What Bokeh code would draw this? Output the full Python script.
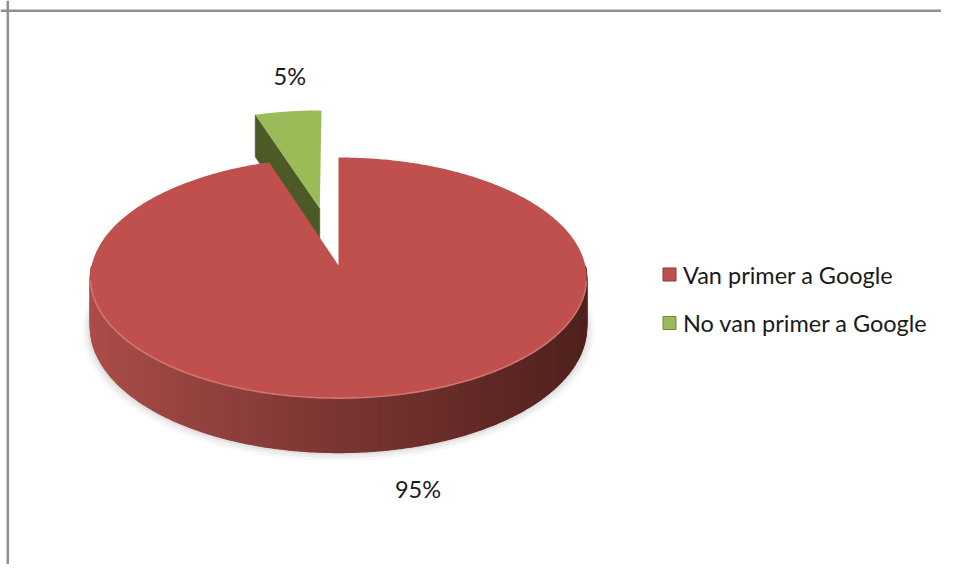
import numpy as np
from bokeh.plotting import figure
from bokeh.models import Range1d, Span, Label, ColumnDataSource
from bokeh.embed import file_html
from bokeh.resources import INLINE
from bokeh.core.properties import value

# ---------------- data ----------------
categories = ["Van primer a Google", "No van primer a Google"]
shares = [95, 5]
pct_labels = ["95%", "5%"]
explode = [0.0, 0.51]

# ---------------- styles ----------------
top_colors = ["#C0504D", "#9BBB59"]
edge_colors = ["#8C3836", "#71893F"]
side_left = [(172, 78, 74), (120, 140, 60)]
side_right = [(80, 33, 30), (58, 70, 28)]
radial_colors = ["#7A302D", "#4B5A26"]
label_nudge = [(20, 14), (11, 7)]   # screen px (right, up)
FONT = "Lato"
FONT_SIZE = "23.5px"
TEXT_COLOR = "#1a1a1a"

W, H = 941, 564
PX = 249.0                 # px per unit radius
CX, CY = 338.0, 265.0      # pie centre inside frame (px from left / top)
A, B, D, K = 0.991, 0.479, 0.194, 0.104   # width, tilt, depth, perspective


def proj(u, v, z):
    s = 1.0 / (1.0 + K * v)
    return A * u * s, (B * v - D * z) * s


def fx(px):
    return (px - CX) / PX


def fy(py):
    return (CY - py) / PX


p = figure(width=W, height=H, output_backend="svg", toolbar_location=None,
           x_range=Range1d(fx(0), fx(W)), y_range=Range1d(fy(H), fy(0)),
           x_axis_location=None, y_axis_location=None, min_border=0,
           background_fill_color="white", border_fill_color="white")
p.grid.visible = False
p.outline_line_color = None

# soft shadow band under the front of the pie
th_out = np.linspace(np.pi - 0.15, 2 * np.pi + 0.15, 160)
th_in = th_out[::-1]
for k, al in [(0.03, 0.06), (0.02, 0.08), (0.01, 0.12)]:
    ox_, oy_ = proj((1 + k) * np.cos(th_out), (1 + k) * np.sin(th_out) - k * 0.6, 1.0)
    ix_, iy_ = proj(np.cos(th_in), np.sin(th_in), 0.9)
    p.patch(list(ox_) + list(ix_), list(oy_ - k * 0.12) + list(iy_),
            fill_color="#808080", fill_alpha=al, line_color=None)

total = float(sum(shares))
n = len(shares)
slices = []
cum = 0.0
for i, sh in enumerate(shares):
    a0 = np.pi / 2 - 2 * np.pi * cum / total
    a1 = np.pi / 2 - 2 * np.pi * (cum + sh) / total
    cum += sh
    mid = 0.5 * (a0 + a1)
    slices.append(dict(i=i, a0=a0, a1=a1, mid=mid,
                       ou=explode[i] * np.cos(mid), ov=explode[i] * np.sin(mid)))

order = sorted(slices, key=lambda s: -np.sin(s["mid"]))  # back first

for s in order:
    i = s["i"]
    ou, ov = s["ou"], s["ov"]
    npts = max(12, int(np.degrees(s["a0"] - s["a1"]) * 1.5))
    t = np.linspace(s["a1"], s["a0"], npts)
    uu, vv = ou + np.cos(t), ov + np.sin(t)
    tx, ty = proj(uu, vv, 0.0)
    bx, by = proj(uu, vv, 1.0)

    # outer curved side (front facing part) with horizontal gradient
    xs, ys, cols = [], [], []
    for j in range(npts - 1):
        if np.sin(0.5 * (t[j] + t[j + 1])) < 0:
            xs.append([tx[j], tx[j + 1], bx[j + 1], bx[j]])
            ys.append([ty[j], ty[j + 1], by[j + 1], by[j]])
            f = np.clip((0.5 * (tx[j] + tx[j + 1]) + 1.0) / 2.0, 0, 1) ** 0.9
            c = tuple(int(round(side_left[i][q] + (side_right[i][q] - side_left[i][q]) * f)) for q in range(3))
            cols.append("#%02x%02x%02x" % c)
    if xs:
        p.patches(xs, ys, fill_color=cols, line_color=cols, line_width=1.3)

    # radial faces
    for ang, sg in [(s["a0"], 1), (s["a1"], -1)]:
        if np.sin(ang + sg * np.pi / 2) < -1e-6:
            u1, v1 = ou + np.cos(ang), ov + np.sin(ang)
            px_, py_ = [], []
            for (uu_, vv_, zz) in [(ou, ov, 0.0), (u1, v1, 0.0), (u1, v1, 1.0), (ou, ov, 1.0)]:
                a_, b_ = proj(uu_, vv_, zz)
                px_.append(a_)
                py_.append(b_)
            p.patch(px_, py_, fill_color=radial_colors[i], line_color=radial_colors[i], line_width=0.5)

    # top face
    cx0, cy0 = proj(ou, ov, 0.0)
    p.patch([cx0] + list(tx), [cy0] + list(ty), fill_color=top_colors[i], line_color=None)

    # light rim along the front edge
    m = np.sin(t) < -0.12
    if m.any():
        p.line(list(tx[m]), list(ty[m] + 0.002), line_color="#D9807B", line_width=1.6, line_alpha=0.8)

# percentage labels
LABEL_GAP = 0.33
for s in slices:
    i = s["i"]
    r = explode[i] + 1.0 + LABEL_GAP
    z = 1.0 if np.sin(s["mid"]) < 0 else 0.0
    lx, ly = proj(r * np.cos(s["mid"]), r * np.sin(s["mid"]), z)
    p.add_layout(Label(x=lx, y=ly, text=pct_labels[i], x_offset=label_nudge[i][0],
                       y_offset=label_nudge[i][1], text_align="center", text_baseline="middle",
                       text_font=FONT, text_font_size=FONT_SIZE, text_color=TEXT_COLOR))

# legend (drawn manually)
LEG_X, LEG_Y, LEG_PITCH, LEG_STANDOFF = 669, 274, 48.5, 13.5
leg_src = ColumnDataSource(dict(
    x=[fx(LEG_X)] * n,
    y=[fy(LEG_Y + k * LEG_PITCH) for k in range(n)],
    tx=[fx(LEG_X + LEG_STANDOFF)] * n,
    ty=[fy(LEG_Y + k * LEG_PITCH) for k in range(n)],
    label=categories, fill=top_colors, line=edge_colors))
p.scatter("x", "y", source=leg_src, marker="square", size=13, fill_color="fill", line_color="line",
          line_width=1)
p.text("tx", "ty", text="label", source=leg_src, text_font=value(FONT), text_font_size=FONT_SIZE,
       text_color=TEXT_COLOR, text_baseline="middle", text_align="left")

# chart-area border (top and left visible)
p.add_layout(Span(location=fy(10.3), dimension="width", line_color="#8F8F8F", line_width=2.5))
p.add_layout(Span(location=fx(7.3), dimension="height", line_color="#8F8F8F", line_width=2.5))

open("out.html", "w").write(file_html(p, INLINE))
